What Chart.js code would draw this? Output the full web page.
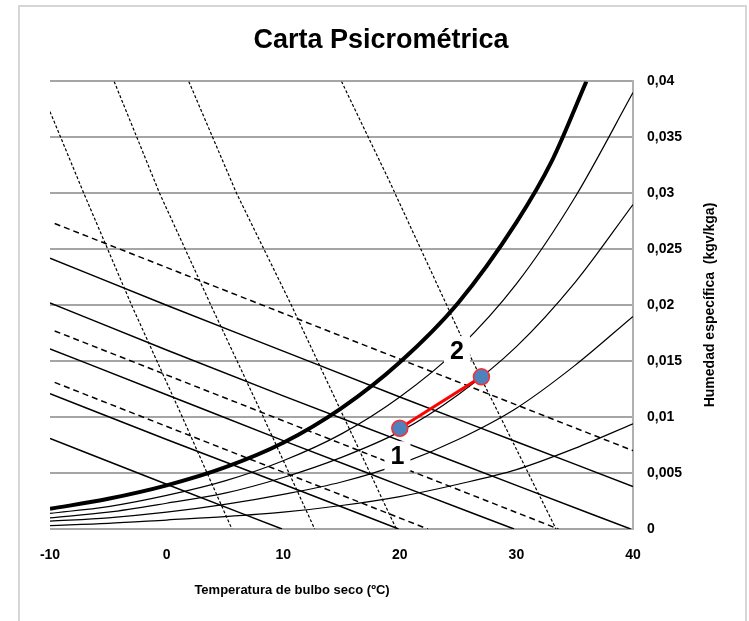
<!DOCTYPE html>
<html>
<head>
<meta charset="utf-8">
<title>Carta Psicrométrica</title>
<script src="https://cdn.jsdelivr.net/npm/chart.js@4.4.1/dist/chart.umd.min.js"></script>
<style>
    body { margin: 0; background: #ffffff; }
    #frame { position: absolute; left: 18px; top: 5px; width: 725px; height: 640px; border: 2px solid #d6d6d6; }
    #psyChart { position: absolute; left: 0; top: 0; }
</style>
</head>
<body>
<div id="frame"></div>
<canvas id="psyChart" width="749" height="621"></canvas>
<script>
// Dry bulb temperatures (ºC) used by the relative humidity curves
const rhTemps = [-10, -5, 0, 5, 10, 15, 20, 25, 30, 35, 40];
const rh80 = [0.0014, 0.0020, 0.0030, 0.0043, 0.0061, 0.0085, 0.0118, 0.0161, 0.0219, 0.0296, 0.0390];
const rh60 = [0.0010, 0.0015, 0.0023, 0.0032, 0.0046, 0.0064, 0.0087, 0.0120, 0.0163, 0.0220, 0.0290];
const rh40 = [0.0007, 0.0010, 0.0015, 0.0022, 0.0031, 0.0042, 0.0058, 0.0080, 0.0108, 0.0146, 0.0190];
const rh20 = [0.0003, 0.0005, 0.0008, 0.0011, 0.0015, 0.0021, 0.0029, 0.0040, 0.0053, 0.0072, 0.0094];

// Saturation curve (100 %)
const satTemps = [-10, -5, 0, 5, 10, 15, 20, 25, 30, 33, 36];
const satHum = [0.0018, 0.0027, 0.0039, 0.0055, 0.0077, 0.0108, 0.0149, 0.0202, 0.0274, 0.0328, 0.0400];

// Solid descending lines (enthalpy)
const h50Temps = [-10, 0, 10, 20, 30, 40];
const h50Hum = [0.0242, 0.0200, 0.0159, 0.0118, 0.0078, 0.0038];
const h40Temps = [-10, 0, 10, 20, 30, 39.8];
const h40Hum = [0.0202, 0.0160, 0.0119, 0.0079, 0.0039, 0];
const h30Temps = [-10, 0, 10, 20, 29.8];
const h30Hum = [0.0161, 0.0120, 0.0079, 0.0039, 0];
const h20Temps = [-10, 0, 10, 19.9];
const h20Hum = [0.0121, 0.0080, 0.0040, 0];
const h10Temps = [-10, 0, 9.9];
const h10Hum = [0.0081, 0.0040, 0];

// Shallow dashed lines
const d1Temps = [-9.6, 40];
const d1Hum = [0.0273, 0.0070];
const d2Temps = [-9.6, 33.6];
const d2Hum = [0.0177, 0];
const d3Temps = [-9.6, 22.4];
const d3Hum = [0.0131, 0];

// Steep dashed lines
const s1Temps = [-10, -7.1, -3.0, 1.35, 5.6];
const s1Hum = [0.0373, 0.030, 0.020, 0.010, 0];
const s2Temps = [-4.5, -0.6, 3.8, 8.3, 12.7];
const s2Hum = [0.040, 0.030, 0.020, 0.010, 0];
const s3Temps = [1.9, 6.0, 10.7, 15.2, 19.7];
const s3Hum = [0.040, 0.030, 0.020, 0.010, 0];
const s4Temps = [15.0, 19.1, 26.2, 33.4];
const s4Hum = [0.040, 0.0311, 0.0151, 0];

// Process 1 -> 2
const stateLabels = ['1', '2'];
const stateTemps = [20, 27];
const stateHum = [0.0090, 0.0136];
const labelTemps = [19.8, 24.9];
const labelHum = [0.0065, 0.0159];

// Axis ticks
const xTickLabels = ['-10', '0', '10', '20', '30', '40'];
const yTickLabels = ['0', '0,005', '0,01', '0,015', '0,02', '0,025', '0,03', '0,035', '0,04'];

const fontFamily = '"Liberation Sans", Arial, sans-serif';

function toPoints(xs, ys) {
    return xs.map((x, i) => ({ x: x, y: ys[i] }));
}

function curve(xs, ys, width) {
    return {
        data: toPoints(xs, ys),
        borderColor: '#000000',
        borderWidth: width,
        pointRadius: 0,
        cubicInterpolationMode: 'monotone'
    };
}

function dashed(xs, ys, width, dash) {
    return {
        data: toPoints(xs, ys),
        borderColor: '#000000',
        borderWidth: width,
        borderDash: dash,
        pointRadius: 0,
        tension: 0
    };
}

// Labels, axis titles
const chartTexts = {
    id: 'chartTexts',
    afterDatasetsDraw(chart) {
        const { ctx, scales: { x, y } } = chart;
        ctx.save();
        ctx.font = 'bold 25px ' + fontFamily;
        ctx.textAlign = 'center';
        ctx.textBaseline = 'middle';
        stateLabels.forEach((txt, i) => {
            const px = x.getPixelForValue(labelTemps[i]);
            const py = y.getPixelForValue(labelHum[i]);
            ctx.fillStyle = '#ffffff';
            ctx.fillRect(px - 13, py - 15, 26, 30);
            ctx.fillStyle = '#000000';
            ctx.fillText(txt, px, py + 1);
        });

        ctx.font = 'bold 13px ' + fontFamily;
        ctx.fillText('Temperatura de bulbo seco (ºC)', 292, 590);

        ctx.translate(710, 305);
        ctx.rotate(-Math.PI / 2);
        ctx.font = 'bold 14px ' + fontFamily;
        ctx.fillText('Humedad específica  (kgv/kga)', 0, 0);
        ctx.restore();
    }
};

function createChart() {
    const ctx = document.getElementById('psyChart');

    const datasets = [
        {
            data: toPoints(stateTemps, stateHum),
            borderColor: '#ff0000',
            borderWidth: 3,
            pointRadius: 8,
            pointBackgroundColor: '#4f81bd',
            pointBorderColor: '#ff2a2a',
            pointBorderWidth: 1.5
        },
        curve(satTemps, satHum, 4),
        curve(rhTemps, rh80, 1.2),
        curve(rhTemps, rh60, 1.2),
        curve(rhTemps, rh40, 1.2),
        curve(rhTemps, rh20, 1.2),
        curve(h50Temps, h50Hum, 1.5),
        curve(h40Temps, h40Hum, 1.5),
        curve(h30Temps, h30Hum, 1.5),
        curve(h20Temps, h20Hum, 1.5),
        curve(h10Temps, h10Hum, 1.5),
        dashed(d1Temps, d1Hum, 1.5, [6, 4]),
        dashed(d2Temps, d2Hum, 1.5, [6, 4]),
        dashed(d3Temps, d3Hum, 1.5, [6, 4]),
        dashed(s1Temps, s1Hum, 1.2, [3, 2]),
        dashed(s2Temps, s2Hum, 1.2, [3, 2]),
        dashed(s3Temps, s3Hum, 1.2, [3, 2]),
        dashed(s4Temps, s4Hum, 1.2, [3, 2])
    ];

    new Chart(ctx, {
        type: 'line',
        data: { datasets: datasets },
        options: {
            responsive: false,
            animation: false,
            layout: { padding: { left: 50, right: 37, top: 0, bottom: 0 } },
            plugins: {
                legend: { display: false },
                tooltip: { enabled: false },
                title: {
                    display: true,
                    text: 'Carta Psicrométrica',
                    color: '#000000',
                    font: { family: fontFamily, size: 27, weight: 'bold' },
                    padding: { top: 24, bottom: 25 }
                }
            },
            scales: {
                x: {
                    type: 'linear',
                    min: -10,
                    max: 40,
                    grid: { display: false, drawTicks: false },
                    border: { display: false },
                    ticks: {
                        stepSize: 10,
                        padding: 18,
                        color: '#000000',
                        font: { family: fontFamily, size: 14, weight: 'bold' },
                        callback: (v, i) => xTickLabels[i]
                    },
                    afterFit: (axis) => { axis.height = 92; }
                },
                y: {
                    type: 'linear',
                    position: 'right',
                    min: 0,
                    max: 0.04,
                    grid: { color: '#a5a5a5', lineWidth: 2, drawTicks: false },
                    border: { display: true, color: '#b0b0b0', width: 2 },
                    ticks: {
                        stepSize: 0.005,
                        padding: 14,
                        color: '#000000',
                        font: { family: fontFamily, size: 14, weight: 'bold' },
                        callback: (v, i) => yTickLabels[i]
                    },
                    afterFit: (axis) => { axis.width = 79; }
                }
            }
        },
        plugins: [chartTexts]
    });
}

document.addEventListener('DOMContentLoaded', createChart);
</script>
</body>
</html>
